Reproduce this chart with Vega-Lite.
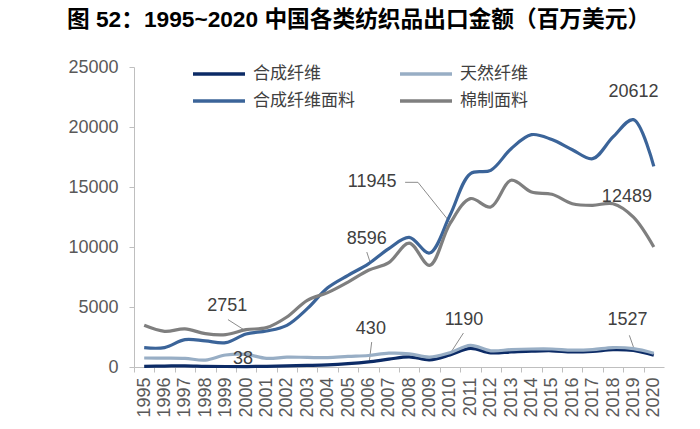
{
  "$schema": "https://vega.github.io/schema/vega-lite/v6.json",
  "width": 530,
  "height": 300,
  "autosize": {"type": "none"},
  "padding": {"left": 134, "top": 67, "right": 36, "bottom": 62},
  "background": "white",
  "title": {
    "text": "图 52：1995~2020 中国各类纺织品出口金额（百万美元）",
    "anchor": "start",
    "frame": "group",
    "dx": -67,
    "dy": 11,
    "offset": 25,
    "font": "Liberation Sans, Noto Sans CJK SC",
    "fontSize": 22.7,
    "fontWeight": "bold",
    "color": "#000000"
  },
  "config": {
    "view": {"stroke": null},
    "axis": {
      "domainColor": "#bfbfbf",
      "tickColor": "#bfbfbf",
      "grid": false,
      "labelFont": "Liberation Sans",
      "labelColor": "#595959",
      "labelFontSize": 18,
      "title": null
    },
    "legend": {
      "title": null,
      "orient": "none",
      "direction": "horizontal",
      "symbolType": "stroke",
      "symbolSize": 2704,
      "symbolStrokeWidth": 3.5,
      "labelFont": "Noto Sans CJK SC",
      "labelFontSize": 17,
      "labelColor": "#404040",
      "labelOffset": 6,
      "labelLimit": 0
    }
  },
  "datasets": {
    "series": [
      {"year": 1995, "series": "合成纤维", "value": 60},
      {"year": 1996, "series": "合成纤维", "value": 80},
      {"year": 1997, "series": "合成纤维", "value": 100},
      {"year": 1998, "series": "合成纤维", "value": 60},
      {"year": 1999, "series": "合成纤维", "value": 40},
      {"year": 2000, "series": "合成纤维", "value": 38},
      {"year": 2001, "series": "合成纤维", "value": 60},
      {"year": 2002, "series": "合成纤维", "value": 90},
      {"year": 2003, "series": "合成纤维", "value": 130},
      {"year": 2004, "series": "合成纤维", "value": 180},
      {"year": 2005, "series": "合成纤维", "value": 280},
      {"year": 2006, "series": "合成纤维", "value": 430},
      {"year": 2007, "series": "合成纤维", "value": 650},
      {"year": 2008, "series": "合成纤维", "value": 850},
      {"year": 2009, "series": "合成纤维", "value": 600},
      {"year": 2010, "series": "合成纤维", "value": 1000},
      {"year": 2011, "series": "合成纤维", "value": 1550},
      {"year": 2012, "series": "合成纤维", "value": 1180},
      {"year": 2013, "series": "合成纤维", "value": 1250},
      {"year": 2014, "series": "合成纤维", "value": 1320},
      {"year": 2015, "series": "合成纤维", "value": 1350},
      {"year": 2016, "series": "合成纤维", "value": 1250},
      {"year": 2017, "series": "合成纤维", "value": 1300},
      {"year": 2018, "series": "合成纤维", "value": 1450},
      {"year": 2019, "series": "合成纤维", "value": 1380},
      {"year": 2020, "series": "合成纤维", "value": 980},
      {"year": 1995, "series": "天然纤维", "value": 750},
      {"year": 1996, "series": "天然纤维", "value": 740},
      {"year": 1997, "series": "天然纤维", "value": 720},
      {"year": 1998, "series": "天然纤维", "value": 580},
      {"year": 1999, "series": "天然纤维", "value": 1000},
      {"year": 2000, "series": "天然纤维", "value": 1050},
      {"year": 2001, "series": "天然纤维", "value": 720},
      {"year": 2002, "series": "天然纤维", "value": 820},
      {"year": 2003, "series": "天然纤维", "value": 800},
      {"year": 2004, "series": "天然纤维", "value": 780},
      {"year": 2005, "series": "天然纤维", "value": 880},
      {"year": 2006, "series": "天然纤维", "value": 960},
      {"year": 2007, "series": "天然纤维", "value": 1150},
      {"year": 2008, "series": "天然纤维", "value": 1100},
      {"year": 2009, "series": "天然纤维", "value": 820},
      {"year": 2010, "series": "天然纤维", "value": 1190},
      {"year": 2011, "series": "天然纤维", "value": 1800},
      {"year": 2012, "series": "天然纤维", "value": 1350},
      {"year": 2013, "series": "天然纤维", "value": 1450},
      {"year": 2014, "series": "天然纤维", "value": 1500},
      {"year": 2015, "series": "天然纤维", "value": 1500},
      {"year": 2016, "series": "天然纤维", "value": 1400},
      {"year": 2017, "series": "天然纤维", "value": 1450},
      {"year": 2018, "series": "天然纤维", "value": 1620},
      {"year": 2019, "series": "天然纤维", "value": 1527},
      {"year": 2020, "series": "天然纤维", "value": 1150},
      {"year": 1995, "series": "合成纤维面料", "value": 1610},
      {"year": 1996, "series": "合成纤维面料", "value": 1620},
      {"year": 1997, "series": "合成纤维面料", "value": 2280},
      {"year": 1998, "series": "合成纤维面料", "value": 2170},
      {"year": 1999, "series": "合成纤维面料", "value": 2030},
      {"year": 2000, "series": "合成纤维面料", "value": 2751},
      {"year": 2001, "series": "合成纤维面料", "value": 3000},
      {"year": 2002, "series": "合成纤维面料", "value": 3475},
      {"year": 2003, "series": "合成纤维面料", "value": 4860},
      {"year": 2004, "series": "合成纤维面料", "value": 6600},
      {"year": 2005, "series": "合成纤维面料", "value": 7640},
      {"year": 2006, "series": "合成纤维面料", "value": 8596},
      {"year": 2007, "series": "合成纤维面料", "value": 9870},
      {"year": 2008, "series": "合成纤维面料", "value": 10800},
      {"year": 2009, "series": "合成纤维面料", "value": 9500},
      {"year": 2010, "series": "合成纤维面料", "value": 12640},
      {"year": 2011, "series": "合成纤维面料", "value": 16110},
      {"year": 2012, "series": "合成纤维面料", "value": 16390},
      {"year": 2013, "series": "合成纤维面料", "value": 18190},
      {"year": 2014, "series": "合成纤维面料", "value": 19360},
      {"year": 2015, "series": "合成纤维面料", "value": 18950},
      {"year": 2016, "series": "合成纤维面料", "value": 18110},
      {"year": 2017, "series": "合成纤维面料", "value": 17360},
      {"year": 2018, "series": "合成纤维面料", "value": 19170},
      {"year": 2019, "series": "合成纤维面料", "value": 20612},
      {"year": 2020, "series": "合成纤维面料", "value": 16720},
      {"year": 1995, "series": "棉制面料", "value": 3475},
      {"year": 1996, "series": "棉制面料", "value": 2975},
      {"year": 1997, "series": "棉制面料", "value": 3170},
      {"year": 1998, "series": "棉制面料", "value": 2780},
      {"year": 1999, "series": "棉制面料", "value": 2700},
      {"year": 2000, "series": "棉制面料", "value": 3110},
      {"year": 2001, "series": "棉制面料", "value": 3280},
      {"year": 2002, "series": "棉制面料", "value": 4170},
      {"year": 2003, "series": "棉制面料", "value": 5560},
      {"year": 2004, "series": "棉制面料", "value": 6200},
      {"year": 2005, "series": "棉制面料", "value": 7080},
      {"year": 2006, "series": "棉制面料", "value": 8060},
      {"year": 2007, "series": "棉制面料", "value": 8700},
      {"year": 2008, "series": "棉制面料", "value": 10330},
      {"year": 2009, "series": "棉制面料", "value": 8470},
      {"year": 2010, "series": "棉制面料", "value": 11945},
      {"year": 2011, "series": "棉制面料", "value": 14030},
      {"year": 2012, "series": "棉制面料", "value": 13330},
      {"year": 2013, "series": "棉制面料", "value": 15560},
      {"year": 2014, "series": "棉制面料", "value": 14580},
      {"year": 2015, "series": "棉制面料", "value": 14390},
      {"year": 2016, "series": "棉制面料", "value": 13610},
      {"year": 2017, "series": "棉制面料", "value": 13470},
      {"year": 2018, "series": "棉制面料", "value": 13610},
      {"year": 2019, "series": "棉制面料", "value": 12489},
      {"year": 2020, "series": "棉制面料", "value": 10000}
    ],
    "labels": [
      {"t": "20612", "year": 2019.0, "value": 22900},
      {"t": "12489", "year": 2018.68, "value": 14170},
      {"t": "1527", "year": 2018.71, "value": 3890},
      {"t": "1190", "year": 2010.69, "value": 3890},
      {"t": "430", "year": 2006.12, "value": 3200},
      {"t": "38", "year": 1999.85, "value": 660},
      {"t": "2751", "year": 1999.07, "value": 5060},
      {"t": "8596", "year": 2005.92, "value": 10700},
      {"t": "11945", "year": 2006.18, "value": 15390}
    ],
    "leaders": [
      {"year": 2018.8, "value": 2640, "year2": 2019.0, "value2": 1670},
      {"year": 2010.66, "value": 2830, "year2": 2010.09, "value2": 1330},
      {"year": 2006.16, "value": 2080, "year2": 2006.05, "value2": 560},
      {"year": 1999.11, "value": 3950, "year2": 1999.93, "value2": 3060},
      {"year": 2005.92, "value": 9580, "year2": 2006.08, "value2": 8750},
      {"year": 2007.8, "value": 15390, "year2": 2008.43, "value2": 15390},
      {"year": 2008.43, "value": 15390, "year2": 2010.0, "value2": 12060}
    ]
  },
  "encoding": {
    "x": {
      "field": "year",
      "type": "quantitative",
      "scale": {"domain": [1994.5, 2020.5], "nice": false, "zero": false},
      "axis": {
        "values": [1995, 1996, 1997, 1998, 1999, 2000, 2001, 2002, 2003, 2004, 2005, 2006, 2007, 2008, 2009, 2010, 2011, 2012, 2013, 2014, 2015, 2016, 2017, 2018, 2019, 2020, 2021],
        "format": "d",
        "labelExpr": "datum.value > 2020 ? '' : datum.label",
        "labelAngle": -90,
        "labelFlush": false,
        "labelOverlap": false,
        "labelBound": false,
        "tickOffset": -10.19,
        "labelOffset": 10.19,
        "tickSize": 5,
        "labelPadding": 5
      }
    },
    "y": {
      "field": "value",
      "type": "quantitative",
      "scale": {"domain": [0, 25000], "nice": false},
      "axis": {"values": [0, 5000, 10000, 15000, 20000, 25000], "format": "d", "tickSize": 5, "labelPadding": 11}
    }
  },
  "layer": [
    {
      "data": {"name": "leaders"},
      "mark": {"type": "rule", "color": "#8c8c8c", "strokeWidth": 1},
      "encoding": {
        "x2": {"field": "year2"},
        "y2": {"field": "value2"}
      }
    },
    {
      "data": {"name": "series"},
      "transform": [{"filter": {"field": "series", "oneOf": ["合成纤维", "天然纤维"]}}],
      "mark": {"type": "line", "strokeWidth": 3.2, "interpolate": "catmull-rom"},
      "encoding": {
        "color": {
          "field": "series",
          "type": "nominal",
          "sort": ["合成纤维", "天然纤维"],
          "scale": {"domain": ["合成纤维", "天然纤维"], "range": ["#0c2b66", "#98aec5"]},
          "legend": {"legendX": 57, "legendY": -21, "columnPadding": 72}
        }
      }
    },
    {
      "data": {"name": "series"},
      "transform": [{"filter": {"field": "series", "oneOf": ["合成纤维面料", "棉制面料"]}}],
      "mark": {"type": "line", "strokeWidth": 3.2, "interpolate": "catmull-rom"},
      "encoding": {
        "stroke": {
          "field": "series",
          "type": "nominal",
          "sort": ["合成纤维面料", "棉制面料"],
          "scale": {"domain": ["合成纤维面料", "棉制面料"], "range": ["#3b6499", "#7f7f7f"]},
          "legend": {"legendX": 57, "legendY": 6, "columnPadding": 38}
        }
      }
    },
    {
      "data": {"name": "labels"},
      "mark": {"type": "text", "font": "Liberation Sans", "fontSize": 18, "color": "#404040", "align": "center", "baseline": "middle"},
      "encoding": {
        "text": {"field": "t"}
      }
    }
  ]
}
